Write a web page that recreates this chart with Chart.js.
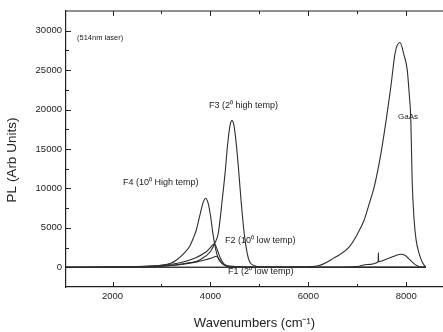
<!DOCTYPE html>
<html>
<head>
<meta charset="utf-8">
<script src="https://cdn.jsdelivr.net/npm/chart.js@4.4.1/dist/chart.umd.min.js"></script>
<style>
  html, body { margin: 0; padding: 0; background: #fff; overflow: hidden; }
  #wrap { width: 443px; height: 332px; }
</style>
</head>
<body>
<div id="wrap"><canvas id="plChart" width="443" height="332"></canvas></div>
<script>
// values (wavenumber cm-1 / PL arb units)
const f4X = [1050, 2000, 2500, 2800, 3000, 3200, 3300, 3450, 3570, 3650, 3710, 3780, 3850, 3900, 3950, 4000, 4050, 4100, 4150, 4200, 4300, 4500, 5000, 6000, 8400];
const f4Y = [0, 30, 80, 150, 250, 550, 900, 1700, 2600, 3700, 4700, 6500, 8200, 8750, 8200, 6600, 4300, 2500, 1300, 700, 300, 100, 30, 0, 0];

const f3X = [1050, 2500, 3000, 3500, 3800, 4000, 4100, 4160, 4240, 4300, 4350, 4400, 4440, 4480, 4530, 4580, 4625, 4690, 4750, 4800, 4900, 5000, 5500, 8400];
const f3Y = [0, 50, 150, 500, 1000, 2000, 3200, 4300, 8500, 12000, 15500, 18000, 18600, 18000, 15500, 12000, 8500, 4300, 1800, 700, 200, 50, 0, 0];

const f2X = [1050, 2500, 3000, 3400, 3700, 3900, 4000, 4080, 4130, 4200, 4280, 4400, 5000, 8400];
const f2Y = [0, 80, 250, 600, 1200, 1900, 2500, 3000, 2400, 1200, 400, 100, 0, 0];

const f1X = [1050, 2500, 3000, 3400, 3700, 3900, 4050, 4120, 4180, 4250, 4350, 4500, 8400];
const f1Y = [0, 50, 150, 350, 650, 950, 1250, 1400, 1000, 400, 100, 0, 0];

const gaasX = [1050, 5000, 5800, 6200, 6500, 6835, 7000, 7140, 7250, 7345, 7470, 7590, 7685, 7773, 7870, 7950, 8020, 8060, 8093, 8120, 8160, 8200, 8260, 8330, 8400];
const gaasY = [0, 0, 50, 200, 1100, 2600, 4200, 6000, 8200, 10200, 14000, 18700, 22900, 27200, 28500, 27000, 25000, 22000, 18700, 11000, 6000, 3500, 1800, 600, 0];

const gaasLowX = [1050, 6500, 7000, 7200, 7425, 7430, 7435, 7600, 7750, 7890, 7980, 8050, 8150, 8260, 8400];
const gaasLowY = [0, 0, 100, 350, 700, 1850, 720, 1050, 1400, 1650, 1500, 1100, 500, 100, 0];

const xTickValues = [2000, 3000, 4000, 5000, 6000, 7000, 8000];
const yTickValues = [0, 2500, 5000, 7500, 10000, 12500, 15000, 17500, 20000, 22500, 25000, 27500, 30000];

const curveLabels = [
  { text: "(514nm laser)", x: 77, y: 38, size: 7.5 },
  { text: "F3 (2\u2070 high temp)", x: 209, y: 106, size: 9 },
  { text: "F4 (10\u2070 High temp)", x: 123, y: 183, size: 9 },
  { text: "F2 (10\u2070 low temp)", x: 225, y: 241, size: 9 },
  { text: "F1 (2\u2070 low temp)", x: 228, y: 272, size: 9 },
  { text: "GaAs", x: 398, y: 117, size: 8 }
];

function pts(xs, ys) {
  return xs.map((x, i) => ({ x: x, y: ys[i] }));
}

const ink = "#222";
const lineInk = "#2e2e2e";
const fontFamily = "'Liberation Sans', Arial, sans-serif";

let series = [
  { label: "F4", data: pts(f4X, f4Y) },
  { label: "F3", data: pts(f3X, f3Y) },
  { label: "F2", data: pts(f2X, f2Y) },
  { label: "F1", data: pts(f1X, f1Y) },
  { label: "GaAs", data: pts(gaasX, gaasY) },
  { label: "GaAs low", data: pts(gaasLowX, gaasLowY) }
].map(s => ({
  label: s.label,
  data: s.data,
  borderColor: lineInk,
  borderWidth: 1.1,
  pointRadius: 0,
  fill: false,
  cubicInterpolationMode: "monotone"
}));

// frame top edge, inward tick marks, y title and the in-plot labels
const decor = {
  id: "decor",
  afterDatasetsDraw(chart) {
    const { ctx, chartArea: a, scales: { x, y } } = chart;
    ctx.save();
    ctx.strokeStyle = ink;
    ctx.lineWidth = 1.2;
    ctx.beginPath();
    ctx.moveTo(a.left, a.top);
    ctx.lineTo(a.right, a.top);
    ctx.stroke();

    ctx.lineWidth = 1;
    xTickValues.forEach(v => {
      let px = Math.round(x.getPixelForValue(v)) + 0.5;
      let len = v % 2000 === 0 ? 5 : 3;
      ctx.beginPath();
      ctx.moveTo(px, a.bottom);
      ctx.lineTo(px, a.bottom - len);
      ctx.moveTo(px, a.top);
      ctx.lineTo(px, a.top + len);
      ctx.stroke();
    });
    yTickValues.forEach(v => {
      let py = Math.round(y.getPixelForValue(v)) + 0.5;
      let len = v % 5000 === 0 ? 5 : 3;
      ctx.beginPath();
      ctx.moveTo(a.left, py);
      ctx.lineTo(a.left + len, py);
      ctx.stroke();
    });

    ctx.fillStyle = ink;
    ctx.textAlign = "left";
    ctx.textBaseline = "middle";
    curveLabels.forEach(l => {
      ctx.font = l.size + "px " + fontFamily;
      ctx.fillText(l.text, l.x, l.y);
    });

    // y title sits a bit below the axis middle in the original
    ctx.translate(12, 160);
    ctx.rotate(-Math.PI / 2);
    ctx.textAlign = "center";
    ctx.font = "13.5px " + fontFamily;
    ctx.fillText("PL (Arb Units)", 0, 0);
    ctx.restore();
  }
};

new Chart(document.getElementById("plChart"), {
  type: "line",
  data: { datasets: series },
  options: {
    responsive: false,
    animation: false,
    layout: { padding: { top: 11, right: 0, left: 0, bottom: 0 } },
    plugins: {
      legend: { display: false },
      tooltip: { enabled: false }
    },
    scales: {
      x: {
        type: "linear",
        min: 1050,
        max: 8750,
        afterFit: s => { s.height = 45; },
        afterBuildTicks: s => { s.ticks = xTickValues.map(v => ({ value: v })); },
        grid: { display: true, drawOnChartArea: false, drawTicks: false },
        border: { display: true, color: ink, width: 1.2 },
        ticks: {
          autoSkip: false,
          maxRotation: 0,
          padding: 4,
          color: ink,
          font: { family: fontFamily, size: 9.5 },
          callback: v => (v % 2000 === 0 ? String(v) : "")
        },
        title: {
          display: true,
          text: "Wavenumbers (cm\u207B\u00B9)",
          color: ink,
          padding: { top: 0, bottom: 1 },
          font: { family: fontFamily, size: 13 }
        }
      },
      y: {
        min: -2500,
        max: 32500,
        afterFit: s => { s.width = 66; },
        afterBuildTicks: s => { s.ticks = yTickValues.map(v => ({ value: v })); },
        grid: { display: true, drawOnChartArea: false, drawTicks: false },
        border: { display: true, color: ink, width: 1.2 },
        ticks: {
          autoSkip: false,
          padding: 4,
          color: ink,
          font: { family: fontFamily, size: 9.5 },
          callback: v => (v % 5000 === 0 ? String(v) : "")
        },
        title: { display: false }
      }
    }
  },
  plugins: [decor]
});
</script>
</body>
</html>
